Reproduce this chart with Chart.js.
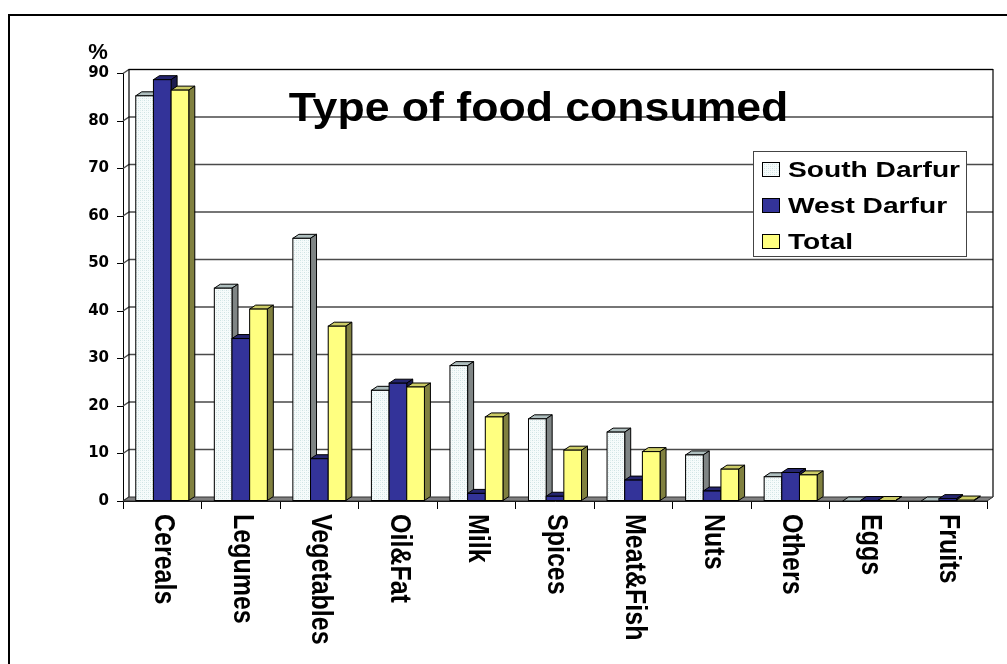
<!DOCTYPE html>
<html>
<head>
<meta charset="utf-8">
<script src="https://cdn.jsdelivr.net/npm/chart.js@4.4.1/dist/chart.umd.min.js"></script>
<style>
  html, body { margin: 0; padding: 0; background: #fff; overflow: hidden; }
  #wrap { position: relative; width: 1007px; height: 664px; }
</style>
</head>
<body>
<div id="wrap"><canvas id="chart"></canvas></div>
<script>
const categories = ['Cereals', 'Legumes', 'Vegetables', 'Oil&Fat', 'Milk', 'Spices', 'Meat&Fish', 'Nuts', 'Others', 'Eggs', 'Fruits'];
const southDarfur = [85.3, 44.8, 55.3, 23.3, 28.5, 17.3, 14.5, 9.7, 5.1, 0, 0];
const westDarfur = [88.7, 34.2, 8.9, 24.8, 1.6, 1.0, 4.4, 2.1, 6.0, 0.1, 0.5];
const totalValues = [86.5, 40.4, 36.8, 24.0, 17.7, 10.7, 10.4, 6.7, 5.5, 0.1, 0.2];
const yTicks = [0, 10, 20, 30, 40, 50, 60, 70, 80, 90];

const FONT = '"Liberation Sans", Arial, sans-serif';
const DX = 6, DY = 4; // глубина 3D

// светлая штриховка для South Darfur
function makePattern() {
  const c = document.createElement('canvas');
  c.width = 4; c.height = 4;
  const g = c.getContext('2d');
  g.fillStyle = '#f6fbfb';
  g.fillRect(0, 0, 4, 4);
  g.fillStyle = '#cfe3e3';
  g.fillRect(0, 0, 1, 1);
  g.fillRect(2, 2, 1, 1);
  g.fillStyle = '#e2efef';
  g.fillRect(2, 0, 1, 1);
  g.fillRect(0, 2, 1, 1);
  return g.createPattern(c, 'repeat');
}
const southFill = makePattern();

// грани: фронт, верх, бок
const faces = [
  { front: southFill, top: '#aebebe', side: '#7f8585' },
  { front: '#333399', top: '#25256e', side: '#1b1b4f' },
  { front: '#ffff80', top: '#cccc66', side: '#80803f' }
];

const wallPlugin = {
  id: 'wall',
  beforeDatasetsDraw(chart) {
    const ctx = chart.ctx;
    const a = chart.chartArea;
    const y = chart.scales.y;
    ctx.save();
    // сетка на задней стенке и на левой стенке
    ctx.strokeStyle = '#4a4a4a';
    ctx.lineWidth = 1.4;
    for (const t of yTicks) {
      const py = y.getPixelForValue(t);
      ctx.beginPath();
      ctx.moveTo(a.left, py);
      ctx.lineTo(a.left + DX, py - DY);
      if (t > 0) ctx.lineTo(a.right + DX, py - DY);
      ctx.stroke();
    }
    ctx.strokeStyle = '#000';
    ctx.lineWidth = 1.2;
    ctx.beginPath();
    ctx.moveTo(a.left + DX, a.bottom - DY);
    ctx.lineTo(a.left + DX, a.top - DY);
    ctx.lineTo(a.right + DX, a.top - DY);
    ctx.lineTo(a.right + DX, a.bottom - DY);
    ctx.stroke();
    // пол
    ctx.fillStyle = '#808080';
    ctx.beginPath();
    ctx.moveTo(a.left, a.bottom);
    ctx.lineTo(a.right, a.bottom);
    ctx.lineTo(a.right + DX, a.bottom - DY);
    ctx.lineTo(a.left + DX, a.bottom - DY);
    ctx.closePath();
    ctx.fill();
    ctx.strokeStyle = '#333';
    ctx.lineWidth = 1;
    ctx.stroke();
    ctx.restore();
  }
};

const bars3dPlugin = {
  id: 'bars3d',
  afterDatasetsDraw(chart) {
    const ctx = chart.ctx;
    ctx.save();
    ctx.lineWidth = 1;
    ctx.strokeStyle = '#000';
    for (let i = 0; i < categories.length; i++) {
      chart.data.datasets.forEach((ds, d) => {
        const bar = chart.getDatasetMeta(d).data[i];
        const p = bar.getProps(['x', 'y', 'base', 'width'], true);
        const l = p.x - p.width / 2, r = p.x + p.width / 2;
        const f = faces[d];
        // верх
        ctx.fillStyle = f.top;
        ctx.beginPath();
        ctx.moveTo(l, p.y);
        ctx.lineTo(l + DX, p.y - DY);
        ctx.lineTo(r + DX, p.y - DY);
        ctx.lineTo(r, p.y);
        ctx.closePath();
        ctx.fill(); ctx.stroke();
        // бок
        ctx.fillStyle = f.side;
        ctx.beginPath();
        ctx.moveTo(r, p.y);
        ctx.lineTo(r + DX, p.y - DY);
        ctx.lineTo(r + DX, p.base - DY);
        ctx.lineTo(r, p.base);
        ctx.closePath();
        ctx.fill(); ctx.stroke();
        // фронт
        if (p.base - p.y > 0.5) {
          ctx.fillStyle = f.front;
          ctx.fillRect(l, p.y, r - l, p.base - p.y);
          ctx.strokeRect(l, p.y, r - l, p.base - p.y);
        }
      });
    }
    ctx.restore();
  }
};

const textPlugin = {
  id: 'texts',
  afterDraw(chart) {
    const ctx = chart.ctx;
    const x = chart.scales.x;
    ctx.save();
    ctx.fillStyle = '#000';

    // подписи категорий, повернуты по часовой
    ctx.font = 'bold 25px ' + FONT;
    ctx.textAlign = 'left';
    ctx.textBaseline = 'middle';
    categories.forEach((c, i) => {
      const px = x.getPixelForTick(i);
      ctx.save();
      ctx.translate(px + 1, 514);
      ctx.scale(1.2, 1);
      ctx.rotate(Math.PI / 2);
      ctx.fillText(c, 0, 0);
      ctx.restore();
    });

    // заголовок
    ctx.save();
    ctx.font = 'bold 40px ' + FONT;
    ctx.textAlign = 'center';
    ctx.textBaseline = 'alphabetic';
    ctx.translate(538.5, 121);
    ctx.scale(1.115, 1);
    ctx.fillText('Type of food consumed', 0, 0);
    ctx.restore();

    // %
    ctx.font = 'bold 22px ' + FONT;
    ctx.textAlign = 'center';
    ctx.textBaseline = 'alphabetic';
    ctx.fillText('%', 98, 59);

    // легенда
    ctx.fillStyle = '#fff';
    ctx.fillRect(753, 151, 214, 106);
    ctx.strokeStyle = '#444';
    ctx.lineWidth = 1;
    ctx.strokeRect(753.5, 151.5, 213, 105);
    chart.data.datasets.forEach((ds, d) => {
      const base = 177 + d * 36;
      ctx.fillStyle = faces[d].front;
      ctx.fillRect(762, base - 15, 18, 15);
      ctx.strokeStyle = '#000';
      ctx.strokeRect(762.5, base - 14.5, 17, 14);
      ctx.save();
      ctx.fillStyle = '#000';
      ctx.font = 'bold 22px ' + FONT;
      ctx.textAlign = 'left';
      ctx.textBaseline = 'alphabetic';
      ctx.translate(788, base);
      ctx.scale(1.28, 1);
      ctx.fillText(ds.label, 0, 0);
      ctx.restore();
    });

    // рамка
    ctx.strokeStyle = '#000';
    ctx.lineWidth = 2;
    ctx.beginPath();
    ctx.moveTo(9, 664);
    ctx.lineTo(9, 15);
    ctx.lineTo(1007, 15);
    ctx.stroke();
    ctx.restore();
  }
};

new Chart(document.getElementById('chart'), {
  type: 'bar',
  data: {
    labels: categories,
    datasets: [
      { label: 'South Darfur', data: southDarfur, backgroundColor: southFill, borderColor: '#000', borderWidth: 1 },
      { label: 'West Darfur', data: westDarfur, backgroundColor: '#333399', borderColor: '#000', borderWidth: 1 },
      { label: 'Total', data: totalValues, backgroundColor: '#ffff80', borderColor: '#000', borderWidth: 1 }
    ]
  },
  plugins: [wallPlugin, bars3dPlugin, textPlugin],
  options: {
    responsive: true,
    maintainAspectRatio: false,
    animation: false,
    layout: { padding: { left: 0, right: 20, top: 73.5, bottom: 0 } },
    datasets: { bar: { categoryPercentage: 0.675, barPercentage: 1 } },
    plugins: {
      legend: { display: false },
      title: { display: false },
      tooltip: { enabled: false }
    },
    scales: {
      x: {
        offset: true,
        grid: { offset: true, drawOnChartArea: false, drawTicks: true, tickLength: 8, color: '#000' },
        border: { display: true, color: '#000', width: 1 },
        ticks: { display: false, autoSkip: false },
        afterFit(scale) { scale.height = 163; }
      },
      y: {
        min: 0,
        max: 90,
        afterBuildTicks(scale) { scale.ticks = yTicks.map(v => ({ value: v })); },
        grid: { drawOnChartArea: false, drawTicks: true, tickLength: 6, color: '#000' },
        border: { display: true, color: '#000', width: 1 },
        ticks: {
          color: '#000',
          padding: 8,
          font: { family: '"DejaVu Sans"', size: 15, weight: 'bold' }
        },
        afterFit(scale) { scale.width = 123; }
      }
    }
  }
});
</script>
</body>
</html>
